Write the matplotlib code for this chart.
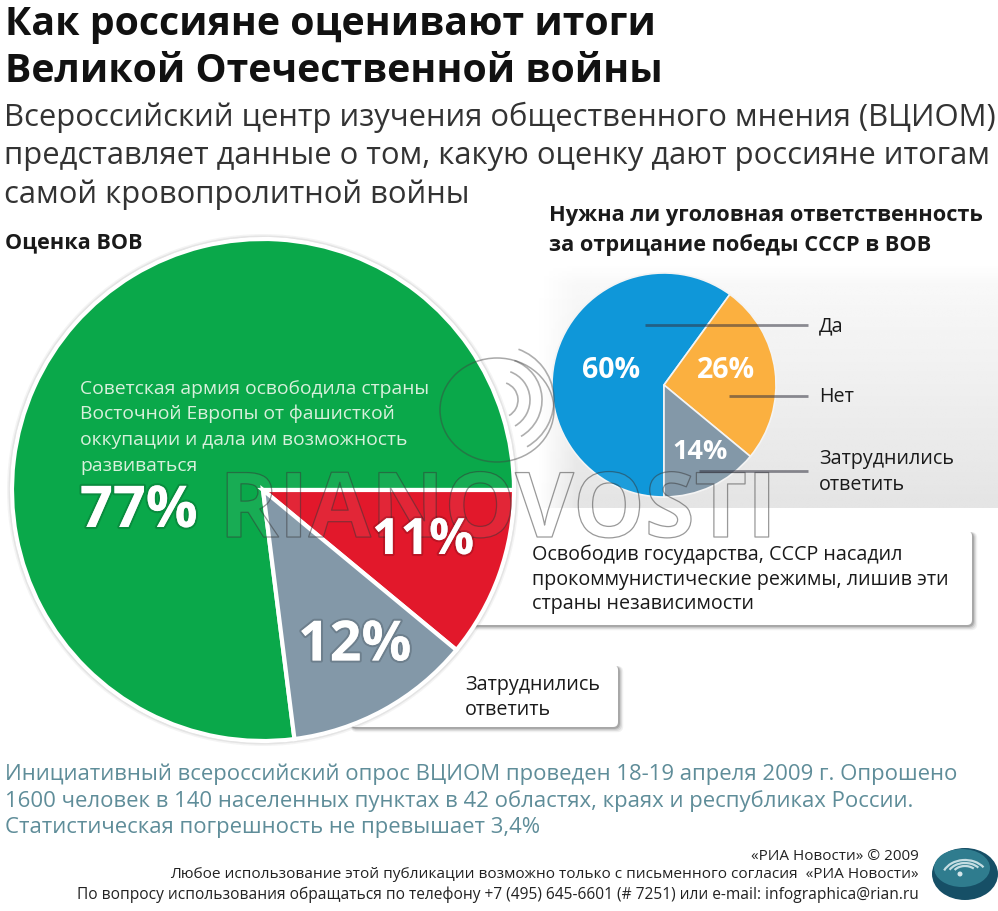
import matplotlib
matplotlib.use("Agg")
import numpy as np
import matplotlib.pyplot as plt
from matplotlib.patches import FancyBboxPatch, Ellipse, Arc, Circle
import matplotlib.patheffects as pe

plt.rcParams['font.family'] = ['Open Sans', 'DejaVu Sans']

W, H = 998, 911

title_lines = ["Как россияне оценивают итоги", "Великой Отечественной войны"]
subtitle_lines = ["Всероссийский центр изучения общественного мнения (ВЦИОМ)",
                  "представляет данные о том, какую оценку дают россияне итогам",
                  "самой кровопролитной войны"]
left_title = "Оценка ВОВ"
right_title = ["Нужна ли уголовная ответственность", "за отрицание победы СССР в ВОВ"]

left_values = [77, 11, 12]
left_labels = ["77%", "11%", "12%"]
left_colors = ["#0aa84a", "#e2182b", "#8398a8"]

right_values = [60, 26, 14]
right_labels = ["60%", "26%", "14%"]
right_names = ["Да", "Нет", "Затруднились", "ответить"]
right_colors = ["#0f97d9", "#fbb040", "#8398a8"]

green_text = ["Советская армия освободила страны", "Восточной Европы от фашисткой",
              "оккупации и дала им возможность", "развиваться"]
red_text = ["Освободив государства, СССР насадил", "прокоммунистические режимы, лишив эти",
            "страны независимости"]
grey_text = ["Затруднились", "ответить"]
footnote = ["Инициативный всероссийский опрос ВЦИОМ проведен 18-19 апреля 2009 г. Опрошено",
            "1600 человек в 140 населенных пунктах в 42 областях, краях и республиках России.",
            "Статистическая погрешность не превышает 3,4%"]
credits = ["«РИА Новости» © 2009",
           "Любое использование этой публикации возможно только с письменного согласия  «РИА Новости»",
           "По вопросу использования обращаться по телефону +7 (495) 645-6601 (# 7251) или e-mail: infographica@rian.ru"]

fig = plt.figure(figsize=(W/100, H/100), dpi=100, facecolor="white")
bg = fig.add_axes([0, 0, 1, 1])
bg.set_xlim(0, W); bg.set_ylim(H, 0); bg.axis("off")

# soft grey panel on the right (white at the top, grey towards the bottom)
gx, gy = np.meshgrid(np.linspace(0, 1, 100), np.linspace(0, 1, 100))
shade = 1 - (0.02 + 0.085 * gy) * np.minimum(1, gy * 12) * np.minimum(1, gx * 12)
bg.imshow(shade, extent=(537, 998, 508, 262), cmap="gray", vmin=0, vmax=1,
          aspect="auto", zorder=0)
bg.set_xlim(0, W); bg.set_ylim(H, 0)


def callout(x, y, w, h):
    for k, a in zip([7, 5, 3, 1.5], [0.07, 0.10, 0.14, 0.20]):
        bg.add_patch(FancyBboxPatch((x + 1, y + 1), w + k * 0.6, h + k * 0.6,
                                    boxstyle="round,pad=0,rounding_size=6",
                                    fc=(0.2, 0.2, 0.2, a), ec="none", zorder=1))
    bg.add_patch(FancyBboxPatch((x, y), w, h, boxstyle="round,pad=0,rounding_size=5",
                                fc="white", ec="none", zorder=1.5))


callout(470, 531, 502, 94)
callout(350, 665, 268, 62)

# left pie
cx, cy, r = 263, 490, 251
for k, a in zip([5, 3.5, 2], [0.05, 0.08, 0.12]):
    bg.add_patch(Circle((cx, cy), r + k, fc=(0.2, 0.2, 0.2, a), ec="none", zorder=2))
ax1 = fig.add_axes([(cx-r)/W, 1-(cy+r)/H, 2*r/W, 2*r/H])
ax1.pie(left_values, colors=left_colors, startangle=277.2, radius=1,
        counterclock=False, wedgeprops=dict(ec="white", lw=3))
ax1.set_xlim(-1, 1); ax1.set_ylim(-1, 1)
ax1.patch.set_alpha(0)
for s in ax1.patches:
    s.set_clip_on(False)

# right pie
cx2, cy2, r2 = 664, 385, 112
ax2 = fig.add_axes([(cx2-r2)/W, 1-(cy2+r2)/H, 2*r2/W, 2*r2/H])
ax2.pie(right_values, colors=right_colors, startangle=270, radius=1,
        counterclock=False, wedgeprops=dict(ec="#f4f4f4", lw=1.2))
ax2.set_xlim(-1, 1); ax2.set_ylim(-1, 1)
ax2.patch.set_alpha(0)
for s in ax2.patches:
    s.set_clip_on(False)

# overlay for everything above the pies
ov = fig.add_axes([0, 0, 1, 1])
ov.set_xlim(0, W); ov.set_ylim(H, 0); ov.axis("off"); ov.patch.set_alpha(0)


def T(x, y, s, size, **kw):
    kw.setdefault("color", "#1a1a1a"); kw.setdefault("va", "center")
    return ov.text(x, y, s, fontsize=size, zorder=10, **kw)


for y, s in zip([24, 71], title_lines):
    T(5, y, s, 28.3, weight="bold", color="#111111")
for y, s in zip([117, 156, 195], subtitle_lines):
    T(4, y, s, 22.3, color="#333333")
T(5, 243, left_title, 15.6, weight="bold")
for y, s in zip([215, 245], right_title):
    T(549, y, s, 15.7, weight="bold")

glow = [pe.withStroke(linewidth=3, foreground=(0, 0, 0, 0.16))]
for y, s in zip([389, 414, 440, 466], green_text):
    T(80, y, s, 13.9, color="#d8f0dc")
T(80, 512, left_labels[0], 41.5, weight="bold", color="white", path_effects=glow)
T(372, 541, left_labels[1], 36, weight="bold", color="white", path_effects=glow)
T(298, 646, left_labels[2], 40, weight="bold", color="white", path_effects=glow)
for y, s in zip([555, 580, 604], red_text):
    T(532, y, s, 14.2)
for y, s in zip([685, 710], grey_text):
    T(465, y, s, 14.2)

T(611, 370, right_labels[0], 20.5, weight="bold", color="white", ha="center")
T(726, 370, right_labels[1], 20.5, weight="bold", color="white", ha="center")
T(700, 452, right_labels[2], 19.5, weight="bold", color="white", ha="center")

for x0, x1, y in [(645, 808, 325), (729, 808, 396), (699, 808, 471)]:
    ov.plot([x0, x1], [y, y], color=(0.2, 0.2, 0.25, 0.55), lw=2, zorder=9,
            solid_capstyle="butt")
T(819, 326, right_names[0], 14.2)
T(819, 397, right_names[1], 14.2)
T(819, 459, right_names[2], 14.2)
T(819, 485, right_names[3], 14.2)

for y, s in zip([774, 801, 828], footnote):
    T(5, y, s, 15.9, color="#5f8d99")

for y, s, size in zip([857, 875, 895], credits, [11, 11.1, 11.2]):
    T(919, y, s, size, ha="right", color="#222222")

# logo globe
ov.add_patch(Ellipse((965, 874), 66, 52, fc="#164f66", ec="none", zorder=5))
ov.add_patch(Ellipse((962, 868), 56, 38, fc="#2f7c8e", ec="none", zorder=5.5))
for k, (a1, a2) in enumerate([(200, 330), (205, 325), (210, 320)]):
    ov.add_patch(Arc((965, 878 - k), 46 - 10 * k, 36 - 8 * k, theta1=a1, theta2=a2,
                     color="#c5dde2", lw=1.6, zorder=6))
ov.add_patch(Circle((960, 874), 2.5, fc="#d5e6ea", ec="none", zorder=6))

# watermark: outlined lettering and swirl
wm = T(498, 514, "RIANOVOSTI", 65, ha="center", color=(1, 1, 1, 0.03), weight="bold",
       path_effects=[pe.withStroke(linewidth=0.9, foreground=(0.2, 0.2, 0.2, 0.5))])
wm.set_zorder(8)
ov.add_patch(Ellipse((497, 410), 114, 104, fc="none", ec=(0.25, 0.25, 0.25, 0.45), lw=1.1, zorder=8))
for rad in [18, 30, 42, 54]:
    ov.add_patch(Arc((500, 400), 2 * rad, 2 * rad, theta1=-70, theta2=60,
                     color=(0.3, 0.3, 0.3, 0.45), lw=1.2, zorder=8))

fig.savefig("out.png", dpi=100, facecolor="white")
